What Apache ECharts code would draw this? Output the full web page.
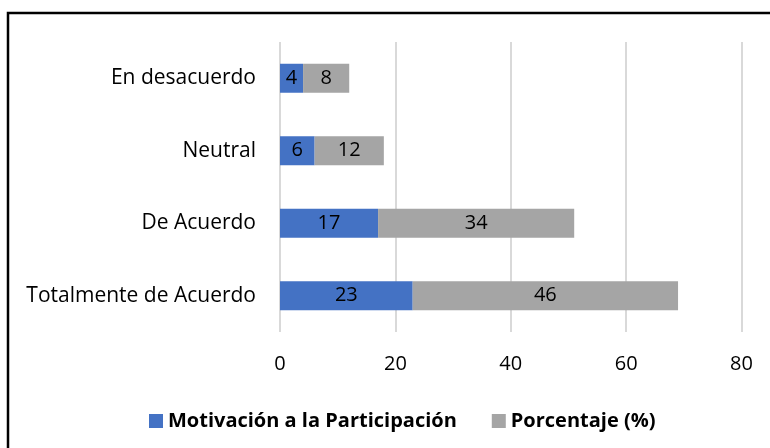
<!DOCTYPE html>
<html>
<head>
<meta charset="utf-8">
<script src="https://cdn.jsdelivr.net/npm/echarts@6/dist/echarts.min.js"></script>
<style>html,body{margin:0;padding:0;background:#fff;}#c{width:770px;height:448px;}</style>
</head>
<body>
<div id="c"></div>
<script>
const categories = ["Totalmente de Acuerdo", "De Acuerdo", "Neutral", "En desacuerdo"];
const motivacion = [23, 17, 6, 4];
const porcentaje = [46, 34, 12, 8];
const seriesNames = ["Motivación a la Participación", "Porcentaje (%)"];
const xTicks = {min: 0, max: 80, interval: 20};

const FONT = "'Open Sans', 'Noto Sans', sans-serif";
const chart = echarts.init(document.getElementById('c'), null, {renderer: 'canvas'});
chart.setOption({
  animation: false,
  backgroundColor: '#fff',
  textStyle: {fontFamily: FONT},
  grid: {left: 280, right: 28.5, top: 42, bottom: 116, containLabel: false},
  xAxis: {
    type: 'value', min: xTicks.min, max: xTicks.max, interval: xTicks.interval,
    axisLine: {show: false}, axisTick: {show: false},
    splitLine: {show: true, lineStyle: {color: '#d9d9d9', width: 2}},
    axisLabel: {color: '#000', fontSize: 20, margin: 22, fontFamily: FONT}
  },
  yAxis: {
    type: 'category', data: categories,
    axisLine: {show: false}, axisTick: {show: false},
    axisLabel: {color: '#000', fontSize: 21, margin: 24, fontFamily: FONT}
  },
  legend: {
    left: 144, top: 406, itemWidth: 14, itemHeight: 14, itemGap: 35,
    icon: 'rect',
    textStyle: {color: '#000', fontSize: 20, fontWeight: 'bold', fontFamily: FONT},
    data: seriesNames
  },
  series: [
    {name: seriesNames[0], type: 'bar', stack: 's', data: motivacion, barWidth: '40%',
     itemStyle: {color: '#4472C4'},
     label: {show: true, position: 'inside', color: '#000', fontSize: 20, fontFamily: FONT}},
    {name: seriesNames[1], type: 'bar', stack: 's', data: porcentaje, barWidth: '40%',
     itemStyle: {color: '#A5A5A5'},
     label: {show: true, position: 'inside', color: '#000', fontSize: 20, fontFamily: FONT}}
  ],
  graphic: [{
    type: 'rect', silent: true, z: 100,
    shape: {x: 8, y: 13, width: 900, height: 600},
    style: {fill: null, stroke: '#000', lineWidth: 2.5}
  }]
});
</script>
</body>
</html>
